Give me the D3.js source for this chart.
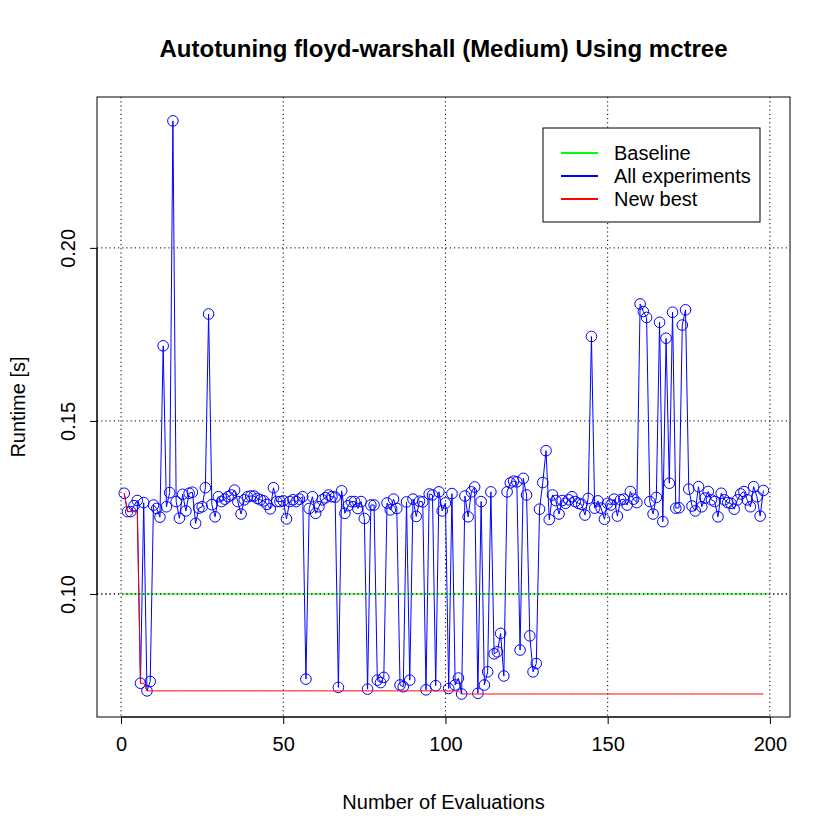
<!DOCTYPE html>
<html>
<head>
<meta charset="utf-8">
<script src="https://cdn.jsdelivr.net/npm/d3@7"></script>
<style>
  html, body { margin: 0; padding: 0; background: #fff; }
  text { font-family: "Liberation Sans", Arial, Helvetica, sans-serif; }
</style>
</head>
<body>
<svg id="chart" width="840" height="840"></svg>
<script>
// ---------------- data ----------------
const title = "Autotuning floyd-warshall (Medium) Using mctree";
const xLabel = "Number of Evaluations";
const yLabel = "Runtime [s]";
const xTicks = [0, 50, 100, 150, 200];
const yTicks = [0.10, 0.15, 0.20];
const yTickLabels = ["0.10", "0.15", "0.20"];
const legendLabels = ["Baseline", "All experiments", "New best"];
const legendColors = ["#00ff00", "#0000ff", "#ff0000"];
const baselineValue = 0.10;
const baselineRange = [1, 200];

// runtimes of all experiments, evaluation 1..198
const runtimes = [
  0.1291, 0.1238, 0.1238, 0.1255, 0.1270, 0.0742, 0.1264, 0.0720, 0.0747, 0.1257, // 1-10
  0.1247, 0.1222, 0.1717, 0.1252, 0.1293, 0.2367, 0.1267, 0.1219, 0.1288, 0.1240, // 11-20
  0.1291, 0.1294, 0.1204, 0.1248, 0.1252, 0.1307, 0.1809, 0.1258, 0.1223, 0.1281, // 21-30
  0.1267, 0.1274, 0.1281, 0.1286, 0.1300, 0.1267, 0.1231, 0.1272, 0.1281, 0.1283, // 31-40
  0.1283, 0.1276, 0.1272, 0.1269, 0.1259, 0.1246, 0.1307, 0.1267, 0.1267, 0.1269, // 41-50
  0.1217, 0.1267, 0.1272, 0.1267, 0.1274, 0.1281, 0.0754, 0.1247, 0.1281, 0.1233, // 51-60
  0.1252, 0.1272, 0.1278, 0.1286, 0.1281, 0.1280, 0.0730, 0.1298, 0.1233, 0.1255, // 61-70
  0.1267, 0.1267, 0.1247, 0.1267, 0.1218, 0.0725, 0.1257, 0.1257, 0.0751, 0.0744, // 71-80
  0.0759, 0.1263, 0.1243, 0.1274, 0.1247, 0.0737, 0.0732, 0.1266, 0.0751, 0.1274, // 81-90
  0.1224, 0.1268, 0.1266, 0.0723, 0.1289, 0.1286, 0.0735, 0.1295, 0.1240, 0.1263, // 91-100
  0.0727, 0.1290, 0.0737, 0.0757, 0.0711, 0.1283, 0.1223, 0.1295, 0.1309, 0.0713, // 101-110
  0.1267, 0.0737, 0.0775, 0.1295, 0.0827, 0.0833, 0.0886, 0.0763, 0.1295, 0.1321, // 111-120
  0.1326, 0.1324, 0.0838, 0.1334, 0.1286, 0.0879, 0.0775, 0.0799, 0.1245, 0.1322, // 121-130
  0.1414, 0.1215, 0.1286, 0.1270, 0.1231, 0.1270, 0.1262, 0.1272, 0.1281, 0.1267, // 131-140
  0.1262, 0.1259, 0.1228, 0.1276, 0.1744, 0.1248, 0.1269, 0.1248, 0.1216, 0.1262, // 141-150
  0.1257, 0.1274, 0.1225, 0.1272, 0.1274, 0.1257, 0.1296, 0.1274, 0.1264, 0.1838, // 151-160
  0.1816, 0.1799, 0.1267, 0.1231, 0.1279, 0.1785, 0.1209, 0.1739, 0.1320, 0.1814, // 161-170
  0.1248, 0.1249, 0.1777, 0.1821, 0.1303, 0.1254, 0.1240, 0.1310, 0.1252, 0.1277, // 171-180
  0.1296, 0.1272, 0.1267, 0.1223, 0.1291, 0.1272, 0.1264, 0.1262, 0.1245, 0.1272, // 181-190
  0.1289, 0.1296, 0.1272, 0.1252, 0.1310, 0.1281, 0.1225, 0.1299                  // 191-198
];

const evals = runtimes.map((_, i) => i + 1);
// running best ("New best")
const bestSoFar = [];
runtimes.forEach((v, i) => bestSoFar.push(i === 0 ? v : Math.min(v, bestSoFar[i - 1])));

// ---------------- layout ----------------
const W = 840, H = 840;
const plot = { left: 97, right: 790, top: 97, bottom: 717 };
const FONT = 20;

const svg = d3.select("#chart");
svg.append("rect").attr("width", W).attr("height", H).attr("fill", "#fff");

const x = d3.scaleLinear().domain([-7.4, 206.2]).range([plot.left, plot.right]);
const y = d3.scaleLinear().domain([0.06445, 0.2436]).range([plot.bottom, plot.top]);

// grid (dotted)
const grid = svg.append("g");
grid.selectAll("line.vg").data(xTicks).enter().append("line")
  .attr("x1", d => x(d)).attr("x2", d => x(d))
  .attr("y1", plot.top).attr("y2", plot.bottom)
  .attr("stroke", "#000").attr("stroke-width", 1).attr("stroke-dasharray", "1.2,3");
grid.selectAll("line.hg").data(yTicks).enter().append("line")
  .attr("y1", d => y(d)).attr("y2", d => y(d))
  .attr("x1", plot.left).attr("x2", plot.right)
  .attr("stroke", "#000").attr("stroke-width", 1).attr("stroke-dasharray", "1.2,3");

// all experiments line + circles
const line = d3.line().x((d, i) => x(evals[i])).y(d => y(d));
svg.append("path").datum(runtimes)
  .attr("d", line).attr("fill", "none")
  .attr("stroke", "#0000ff").attr("stroke-width", 1);
svg.append("g").selectAll("circle").data(runtimes).enter().append("circle")
  .attr("cx", (d, i) => x(evals[i])).attr("cy", d => y(d)).attr("r", 5.3)
  .attr("fill", "none").attr("stroke", "#0000ff").attr("stroke-width", 1);

// baseline
svg.append("path").datum(baselineRange)
  .attr("d", d3.line().x(d => x(d)).y(() => y(baselineValue)))
  .attr("fill", "none").attr("stroke", "#00ff00").attr("stroke-width", 1);

// dotted grid dots remain visible over the green baseline
svg.append("line")
  .attr("x1", plot.left).attr("x2", plot.right)
  .attr("y1", y(0.10)).attr("y2", y(0.10))
  .attr("stroke", "#000").attr("stroke-width", 1).attr("stroke-dasharray", "1.2,3");

// new best
svg.append("path").datum(bestSoFar)
  .attr("d", line).attr("fill", "none")
  .attr("stroke", "#ff0000").attr("stroke-width", 1);

// box
svg.append("rect")
  .attr("x", plot.left).attr("y", plot.top)
  .attr("width", plot.right - plot.left).attr("height", plot.bottom - plot.top)
  .attr("fill", "none").attr("stroke", "#000").attr("stroke-width", 1);

// x axis
const xAxis = d3.axisBottom(x).tickValues(xTicks).tickSize(7).tickPadding(13).tickFormat(d3.format("d"));
const gx = svg.append("g").attr("transform", `translate(0,${plot.bottom})`).call(xAxis);
gx.select(".domain").attr("d", `M${x(xTicks[0])},0H${x(xTicks[xTicks.length - 1])}`);
gx.selectAll("text").attr("font-size", FONT).attr("fill", "#000")
  .attr("font-family", "Liberation Sans, Arial, sans-serif");

// y axis
const yAxis = d3.axisLeft(y).tickValues(yTicks).tickSize(7).tickFormat((d, i) => yTickLabels[i]);
const gy = svg.append("g").attr("transform", `translate(${plot.left},0)`).call(yAxis);
gy.select(".domain").attr("d", `M0,${y(yTicks[0])}V${y(yTicks[yTicks.length - 1])}`);
gy.selectAll("text")
  .attr("font-size", FONT).attr("fill", "#000")
  .attr("font-family", "Liberation Sans, Arial, sans-serif")
  .attr("x", null).attr("dy", null)
  .attr("text-anchor", "middle")
  .attr("transform", "translate(-22,0) rotate(-90)");

// title and axis labels
svg.append("text").attr("x", (plot.left + plot.right) / 2).attr("y", 57)
  .attr("text-anchor", "middle").attr("font-size", 24).attr("font-weight", "bold")
  .text(title);
svg.append("text").attr("x", (plot.left + plot.right) / 2).attr("y", 809)
  .attr("text-anchor", "middle").attr("font-size", FONT).text(xLabel);
svg.append("text")
  .attr("transform", `translate(25,${(plot.top + plot.bottom) / 2}) rotate(-90)`)
  .attr("text-anchor", "middle").attr("font-size", FONT).text(yLabel);

// legend
const lg = svg.append("g");
lg.append("rect").attr("x", 543).attr("y", 128).attr("width", 217).attr("height", 94)
  .attr("fill", "#fff").attr("stroke", "#000").attr("stroke-width", 1);
legendLabels.forEach((lab, i) => {
  const cy = 153 + i * 23;
  lg.append("line").attr("x1", 561).attr("x2", 598).attr("y1", cy).attr("y2", cy)
    .attr("stroke", legendColors[i]).attr("stroke-width", 2);
  lg.append("text").attr("x", 614).attr("y", cy + 7).attr("font-size", FONT).text(lab);
});
</script>
</body>
</html>
